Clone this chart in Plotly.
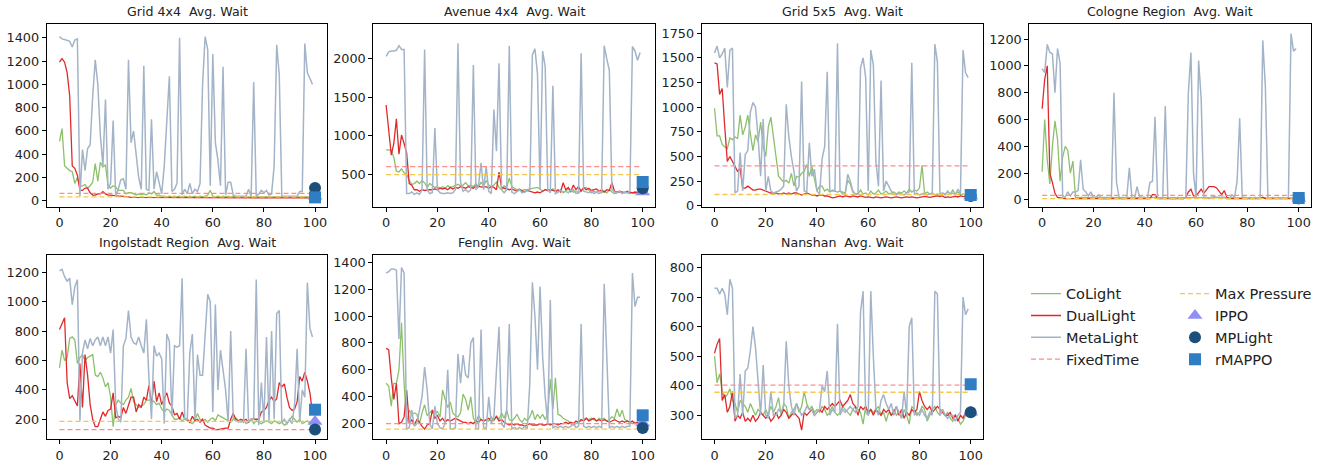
import plotly.graph_objects as go

EPISODES = list(range(100))

TITLES = ["Grid 4x4  Avg. Wait", "Avenue 4x4  Avg. Wait", "Grid 5x5  Avg. Wait",
          "Cologne Region  Avg. Wait", "Ingolstadt Region  Avg. Wait",
          "Fenglin  Avg. Wait", "Nanshan  Avg. Wait"]

# ---------------- Grid 4x4 ----------------
G44_CO = [510, 620, 300, 280, 260, 250, 150, 200, 120, 130,
          140, 110, 130, 160, 320, 170, 330, 290, 310, 130,
          110, 130, 120, 90, 90, 90, 60, 70, 70, 60,
          50, 60, 55, 60, 50, 70, 60, 80, 50, 50,
          40, 40, 35, 40, 35, 40, 35, 40, 35, 40,
          35, 40, 35, 40, 35, 40, 35, 40, 50, 90,
          40, 35, 40, 35, 40, 35, 40, 35, 40, 35,
          35, 35, 35, 35, 35, 35, 35, 35, 35, 35,
          35, 35, 35, 35, 35, 35, 35, 35, 35, 35,
          35, 35, 35, 35, 35, 35, 35, 35, 35, 35]
G44_DU = [1190, 1220, 1190, 1100, 900, 300, 280, 220, 90, 90,
          110, 110, 70, 50, 50, 60, 60, 80, 60, 50,
          50, 45, 45, 40, 40, 40, 40, 35, 30, 30,
          25, 25, 25, 25, 25, 25, 25, 25, 25, 25,
          25, 25, 25, 25, 25, 25, 25, 25, 25, 25,
          25, 25, 25, 25, 25, 25, 25, 25, 25, 25,
          25, 25, 25, 25, 25, 25, 25, 25, 25, 25,
          25, 25, 25, 25, 25, 25, 25, 25, 25, 25,
          25, 25, 25, 25, 25, 25, 25, 25, 25, 25,
          25, 25, 25, 25, 25, 25, 25, 25, 25, 25]
G44_ME = [1410, 1390, 1385, 1380, 1370, 1320, 1380, 1390, 40, 440,
          260, 450, 480, 900, 1210, 1000, 560, 300, 870, 100,
          150, 690, 40, 100, 180, 190, 100, 1210, 500, 600,
          420, 200, 100, 1160, 100, 90, 700, 100, 250, 150,
          60, 300, 700, 1070, 80, 100, 150, 1400, 50, 100,
          60, 150, 60, 100, 80, 150, 1000, 1410, 1300, 130,
          1260, 500, 350, 130, 1150, 50, 160, 160, 50, 40,
          40, 40, 40, 40, 100, 40, 1020, 40, 60, 90,
          70, 90, 50, 60, 300, 1340, 1080, 40, 40, 40,
          40, 40, 40, 40, 80, 80, 1350, 1100, 1050, 1000]

# ---------------- Avenue 4x4 ----------------
A44_CO = [820, 810, 810, 720, 540, 530, 570, 520, 500, 420,
          370, 380, 410, 380, 420, 390, 330, 380, 350, 330,
          340, 320, 340, 320, 350, 330, 340, 360, 370, 350,
          360, 390, 350, 360, 340, 380, 330, 400, 350, 420,
          360, 340, 360, 400, 330, 300, 350, 330, 450, 340,
          320, 300, 310, 290, 300, 300, 310, 320, 320, 330,
          310, 280, 300, 290, 280, 310, 280, 270, 300, 260,
          290, 310, 270, 300, 250, 260, 290, 320, 330, 300,
          260, 280, 270, 250, 270, 280, 260, 300, 270, 250,
          260, 270, 260, 270, 260, 250, 260, 250, 260, 250]
A44_DU = [1400, 1100, 750, 900, 1220, 760, 1010, 900, 780, 380,
          360, 300, 300, 280, 300, 290, 300, 300, 300, 310,
          300, 320, 310, 320, 300, 330, 310, 330, 320, 340,
          330, 320, 340, 330, 320, 350, 340, 330, 330, 340,
          320, 340, 330, 300, 530, 330, 320, 310, 300, 310,
          290, 280, 300, 280, 270, 290, 280, 270, 260, 270,
          260, 280, 300, 290, 300, 290, 280, 300, 270, 390,
          300, 330, 280, 360, 300, 340, 280, 330, 300, 320,
          290, 300, 310, 280, 300, 270, 300, 290, 390, 280,
          270, 280, 270, 260, 280, 270, 260, 270, 260, 260]
A44_ME = [2030, 2090, 2100, 2100, 2110, 2170, 2120, 2120, 250, 250,
          270, 240, 260, 240, 300, 2120, 300, 250, 260, 1100,
          300, 260, 250, 250, 260, 250, 260, 300, 2200, 400,
          280, 300, 270, 300, 1920, 300, 350, 650, 300, 600,
          280, 250, 1340, 800, 1940, 300, 260, 300, 2170, 270,
          250, 280, 300, 260, 270, 300, 300, 2050, 2130, 1800,
          300, 2100, 1900, 300, 260, 1650, 250, 270, 290, 270,
          280, 260, 300, 270, 280, 260, 2070, 280, 270, 260,
          280, 250, 270, 280, 260, 2170, 2000, 1850, 300, 270,
          260, 280, 250, 270, 260, 280, 2160, 2100, 1980, 2080]

# ---------------- Grid 5x5 ----------------
G55_CO = [990, 710, 710, 620, 600, 580, 690, 670, 700, 680,
          920, 720, 800, 920, 730, 560, 720, 650, 850, 600,
          500, 800, 900, 700, 450, 300, 270, 240, 260, 230,
          330, 200, 300, 290, 330, 350, 420, 300, 400, 260,
          150, 200, 200, 150, 170, 140, 160, 150, 140, 150,
          140, 130, 260, 220, 140, 120, 120, 160, 120, 130,
          110, 150, 120, 130, 160, 120, 130, 150, 120, 130,
          140, 120, 140, 130, 150, 130, 170, 140, 160, 150,
          180, 410, 120, 140, 120, 130, 110, 120, 110, 130,
          120, 140, 120, 160, 120, 140, 110, 120, 110, 110]
G55_DU = [1450, 1440, 1130, 1190, 800, 450, 500, 450, 400, 350,
          380, 180, 180, 200, 180, 160, 160, 170, 170, 160,
          150, 140, 130, 130, 130, 120, 120, 130, 120, 130,
          120, 130, 130, 120, 110, 120, 130, 120, 110, 110,
          100, 110, 110, 100, 100, 90, 80, 85, 95, 100,
          90, 100, 95, 90, 100, 95, 90, 100, 90, 85,
          90, 85, 80, 90, 85, 80, 85, 90, 85, 80,
          85, 90, 85, 80, 85, 90, 85, 90, 85, 80,
          85, 90, 95, 90, 85, 90, 95, 100, 95, 100,
          85, 90, 85, 90, 95, 90, 100, 95, 90, 90]
G55_ME = [1550, 1620, 1500, 1540, 1600, 1200, 1580, 1600, 130, 150,
          540, 150, 520, 560, 950, 1050, 1000, 700, 300, 880,
          150, 300, 150, 130, 140, 150, 170, 200, 1030, 700,
          500, 350, 150, 200, 1260, 150, 140, 640, 300, 370,
          150, 120, 480, 600, 1360, 150, 150, 150, 1650, 150,
          120, 120, 320, 250, 150, 120, 120, 1400, 1500, 1300,
          150, 1580, 1430, 450, 200, 1270, 150, 250, 200, 150,
          120, 110, 130, 120, 110, 130, 140, 1450, 120, 130,
          110, 120, 130, 110, 120, 130, 1640, 1460, 120, 130,
          110, 150, 120, 130, 110, 170, 120, 1580, 1350, 1300]

# ---------------- Cologne Region ----------------
COL_CO = [210, 600, 300, 120, 400, 590, 450, 140, 320, 400,
          370, 200, 290, 20, 20, 20, 15, 15, 15, 15,
          15, 15, 15, 15, 15, 15, 15, 15, 15, 15,
          15, 15, 15, 15, 15, 15, 15, 15, 15, 15,
          15, 15, 15, 15, 15, 15, 15, 15, 15, 15,
          15, 15, 15, 15, 15, 15, 15, 15, 15, 15,
          15, 15, 15, 15, 15, 15, 15, 15, 15, 15,
          15, 15, 15, 15, 15, 15, 15, 15, 15, 15,
          15, 15, 15, 15, 15, 15, 15, 15, 15, 15,
          15, 15, 15, 15, 15, 15, 15, 15, 15, 15]
COL_DU = [680, 900, 1000, 200, 130, 50, 20, 15, 10, 10,
          10, 10, 10, 10, 10, 10, 10, 10, 10, 10,
          10, 10, 10, 10, 10, 10, 10, 10, 10, 10,
          10, 10, 10, 10, 10, 10, 10, 10, 10, 10,
          10, 10, 10, 40, 40, 10, 10, 10, 10, 10,
          10, 10, 10, 10, 10, 10, 20, 60, 80, 30,
          30, 60, 80, 50, 80, 100, 100, 100, 90, 60,
          40, 70, 20, 10, 10, 10, 10, 10, 10, 10,
          10, 10, 10, 10, 10, 10, 20, 10, 10, 10,
          10, 10, 10, 10, 10, 10, 10, 10, 10, 10]
COL_ME = [980, 950, 1160, 1100, 1090, 800, 1130, 1020, 30, 20,
          60, 30, 60, 60, 70, 300, 80, 60, 30, 60,
          20, 20, 40, 10, 10, 10, 10, 20, 800, 130,
          20, 10, 10, 20, 240, 20, 10, 100, 20, 20,
          20, 10, 130, 140, 620, 20, 10, 20, 700, 20,
          10, 10, 10, 20, 10, 10, 20, 800, 1100, 200,
          20, 1040, 750, 20, 20, 10, 20, 30, 20, 20,
          20, 20, 10, 10, 40, 20, 140, 610, 20, 20,
          10, 20, 10, 20, 10, 20, 1190, 850, 20, 10,
          20, 10, 20, 10, 20, 10, 20, 1240, 1110, 1130]

# ---------------- Ingolstadt Region ----------------
ING_CO = [550, 670, 600, 620, 750, 760, 740, 580, 620, 640,
          600, 620, 630, 640, 500, 490, 520, 480, 420, 450,
          350, 150, 300, 330, 310, 300, 330, 350, 410, 320,
          300, 280, 290, 300, 330, 330, 330, 320, 300, 310,
          270, 250, 270, 260, 230, 200, 200, 210, 190, 200,
          190, 180, 170, 190, 240, 200, 190, 200, 180, 200,
          210, 190, 230, 220, 210, 200, 190, 180, 200, 210,
          190, 180, 200, 170, 180, 200, 170, 190, 180, 170,
          180, 190, 180, 170, 190, 180, 170, 180, 160, 170,
          200, 220, 200, 180, 200, 170, 180, 190, 170, 180]
ING_DU = [810, 850, 890, 450, 340, 360, 330, 290, 580, 280,
          640, 500, 300, 200, 150, 150, 200, 250, 220, 260,
          270, 380, 210, 220, 210, 280, 240, 300, 350, 350,
          250, 300, 280, 350, 330, 430, 300, 460, 320, 380,
          300, 340, 380, 310, 290, 230, 240, 200, 250, 200,
          200, 180, 220, 190, 200, 180, 200, 160, 150, 140,
          140, 130, 130, 135, 135, 140, 140, 200, 240, 200,
          190, 200, 190, 200, 180, 200, 200, 200, 200, 250,
          260, 280, 330, 350, 320, 340, 450, 420, 440, 350,
          280, 260, 270, 320, 490, 460, 520, 460, 380, 240]
ING_ME = [1210, 1220, 1170, 1140, 1160, 980, 1100, 1150, 190, 650,
          740, 680, 750, 700, 740, 760, 700, 760, 700, 760,
          650, 810, 300, 200, 180, 700, 750, 940, 760, 720,
          710, 760, 700, 650, 880, 480, 200, 700, 630, 650,
          610, 170, 780, 730, 220, 700, 690, 700, 1160, 200,
          200, 650, 780, 200, 640, 500, 500, 750, 1050, 1000,
          250, 980, 400, 670, 550, 400, 180, 800, 200, 190,
          180, 190, 180, 680, 180, 200, 200, 1150, 160, 450,
          180, 760, 180, 800, 200, 920, 940, 180, 200, 170,
          200, 170, 300, 680, 180, 400, 350, 1130, 820, 760]

# ---------------- Fenglin ----------------
FEN_CO = [500, 480, 330, 500, 500, 600, 950, 500, 200, 300,
          270, 280, 270, 200, 280, 340, 260, 280, 300, 280,
          290, 250, 450, 380, 320, 360, 280, 260, 250, 280,
          420, 380, 300, 400, 240, 210, 260, 230, 220, 230,
          220, 250, 220, 260, 230, 280, 240, 300, 230, 220,
          240, 270, 230, 210, 240, 220, 250, 300, 230, 270,
          240, 270, 230, 280, 530, 310, 540, 270, 260, 240,
          230, 220, 200, 190, 200, 210, 220, 230, 240, 230,
          240, 230, 220, 240, 230, 240, 220, 230, 250, 240,
          310, 250, 300, 230, 220, 210, 200, 210, 200, 200]
FEN_DU = [760, 750, 540, 380, 500, 200, 210, 250, 450, 200,
          230, 190, 230, 210, 180, 160, 190, 200, 300, 240,
          260, 220, 240, 210, 230, 220, 230, 240, 230, 220,
          210, 210, 200, 210, 200, 220, 210, 230, 220, 230,
          240, 220, 230, 250, 220, 230, 210, 200, 190, 200,
          190, 200, 190, 190, 180, 190, 200, 190, 190, 190,
          200, 190, 190, 200, 190, 200, 200, 190, 200, 200,
          210, 200, 210, 200, 220, 210, 230, 220, 240, 220,
          230, 240, 220, 230, 220, 230, 220, 210, 220, 230,
          220, 210, 220, 210, 220, 210, 220, 200, 210, 200]
FEN_ME = [1320, 1330, 1350, 1350, 1340, 830, 1360, 1320, 160, 170,
          300, 180, 200, 300, 400, 620, 450, 200, 160, 330,
          200, 170, 160, 200, 600, 160, 160, 170, 720, 500,
          710, 560, 540, 800, 840, 160, 160, 900, 170, 160,
          400, 200, 240, 600, 920, 200, 170, 300, 940, 160,
          170, 160, 170, 160, 180, 160, 500, 1250, 1000, 600,
          1220, 700, 400, 200, 1120, 170, 180, 170, 180, 170,
          180, 170, 180, 200, 170, 180, 940, 180, 170, 180,
          170, 180, 170, 180, 170, 1240, 700, 170, 180, 170,
          180, 170, 180, 170, 180, 180, 1320, 1070, 1140, 1140]

# ---------------- Nanshan ----------------
NAN_CO = [500, 410, 440, 380, 360, 370, 390, 350, 340, 310,
          350, 340, 330, 310, 340, 320, 300, 320, 310, 300,
          320, 300, 330, 310, 330, 360, 300, 340, 330, 290,
          310, 320, 340, 310, 330, 380, 340, 320, 330, 310,
          320, 310, 330, 320, 300, 310, 330, 310, 300, 310,
          330, 320, 310, 300, 320, 330, 320, 310, 270, 330,
          300, 320, 310, 320, 330, 300, 310, 280, 310, 300,
          320, 300, 310, 290, 320, 300, 270, 330, 320, 300,
          310, 330, 320, 280, 300, 320, 330, 310, 300, 320,
          300, 310, 290, 280, 300, 290, 270, 280, 300, 310]
NAN_DU = [510, 540, 560, 350, 370, 310, 330, 380, 280, 300,
          290, 310, 280, 290, 280, 300, 280, 290, 310, 300,
          290, 300, 280, 290, 310, 290, 300, 320, 310, 290,
          300, 310, 300, 290, 250, 310, 300, 310, 320, 300,
          310, 320, 310, 330, 320, 330, 340, 330, 340, 350,
          330, 340, 350, 370, 340, 330, 300, 330, 320, 330,
          310, 320, 300, 320, 310, 300, 320, 310, 320, 300,
          310, 330, 300, 320, 290, 310, 300, 320, 310, 320,
          380, 350, 330, 320, 330, 310, 320, 330, 320, 310,
          300, 300, 310, 290, 300, 280, 300, 290, 310, 310]
NAN_ME = [730, 730, 710, 730, 710, 640, 760, 730, 290, 300,
          440, 300, 450, 460, 520, 600, 530, 420, 300, 470,
          300, 290, 380, 300, 300, 320, 310, 330, 550, 400,
          330, 300, 340, 320, 300, 310, 330, 320, 320, 300,
          310, 320, 400, 380, 450, 300, 320, 310, 610, 300,
          320, 310, 320, 330, 320, 310, 330, 650, 720, 310,
          300, 720, 500, 320, 300, 350, 370, 340, 320, 340,
          300, 330, 310, 290, 380, 300, 600, 630, 300, 310,
          300, 320, 300, 290, 310, 300, 720, 710, 300, 320,
          300, 290, 300, 300, 280, 300, 310, 700, 640, 660]

COLIGHT = [G44_CO, A44_CO, G55_CO, COL_CO, ING_CO, FEN_CO, NAN_CO]
DUALLIGHT = [G44_DU, A44_DU, G55_DU, COL_DU, ING_DU, FEN_DU, NAN_DU]
METALIGHT = [G44_ME, A44_ME, G55_ME, COL_ME, ING_ME, FEN_ME, NAN_ME]
FIXEDTIME = [65, 600, 405, 35, 130, 200, 402]
MAXPRESSURE = [35, 495, 115, 10, 185, 160, 378]
IPPO = [40, 270, 100, 12, 185, 205, 310]
MPLIGHT = [110, 320, 100, 12, 130, 168, 310]
RMAPPO = [30, 400, 110, 15, 265, 262, 405]
MARKER_X = 100

Y_TICKS = [[0, 200, 400, 600, 800, 1000, 1200, 1400],
           [500, 1000, 1500, 2000],
           [0, 250, 500, 750, 1000, 1250, 1500, 1750],
           [0, 200, 400, 600, 800, 1000, 1200],
           [200, 400, 600, 800, 1000, 1200],
           [200, 400, 600, 800, 1000, 1200, 1400],
           [300, 400, 500, 600, 700, 800]]
Y_RANGES = [[-51, 1521], [78, 2456], [-10, 1848], [-51, 1315],
            [64, 1317], [84, 1453], [219, 842]]
X_TICKS = [0, 20, 40, 60, 80, 100]

C_CO = "#8cc06b"
C_DU = "#df2a2c"
C_ME = "#a3b4c8"
C_FT = "#ff8c8c"
C_MP = "#f6c748"
C_IP = "#8f8ff5"
C_ML = "#1b4f7c"
C_RM = "#2f7ec4"

W, H = 1332, 463
COLS = [(46.7, 327.3), (373.3, 655.0), (701.7, 983.0), (1029.3, 1311.0)]
ROWS = [(24.0, 210.0), (259.0, 446.0)]
FONT = "DejaVu Sans"

fig = go.Figure()
layout = dict(width=W, height=H, margin=dict(l=0, r=0, t=0, b=0),
              paper_bgcolor="white", plot_bgcolor="white",
              font=dict(family=FONT, size=12.8, color="#222"),
              annotations=[])

for i in range(7):
    r, c = divmod(i, 4)
    ax = "" if i == 0 else str(i + 1)
    xa, ya = "x" + ax, "y" + ax
    first = (i == 0)
    fig.add_trace(go.Scatter(x=EPISODES, y=COLIGHT[i], mode="lines", name="CoLight",
                             line=dict(color=C_CO, width=1.3), xaxis=xa, yaxis=ya,
                             legend="legend", showlegend=first, legendgroup="co"))
    fig.add_trace(go.Scatter(x=EPISODES, y=DUALLIGHT[i], mode="lines", name="DualLight",
                             line=dict(color=C_DU, width=1.3), xaxis=xa, yaxis=ya,
                             legend="legend", showlegend=first, legendgroup="du"))
    fig.add_trace(go.Scatter(x=EPISODES, y=METALIGHT[i], mode="lines", name="MetaLight",
                             line=dict(color=C_ME, width=1.5), xaxis=xa, yaxis=ya,
                             legend="legend", showlegend=first, legendgroup="me"))
    fig.add_trace(go.Scatter(x=[0, 99], y=[FIXEDTIME[i]] * 2, mode="lines", name="FixedTime",
                             line=dict(color=C_FT, width=1.3, dash="5px,3px"), xaxis=xa, yaxis=ya,
                             legend="legend", showlegend=first, legendgroup="ft"))
    fig.add_trace(go.Scatter(x=[0, 99], y=[MAXPRESSURE[i]] * 2, mode="lines", name="Max Pressure",
                             line=dict(color=C_MP, width=1.3, dash="5px,3px"), xaxis=xa, yaxis=ya,
                             legend="legend2", showlegend=first, legendgroup="mp"))
    fig.add_trace(go.Scatter(x=[MARKER_X], y=[IPPO[i]], mode="markers", name="IPPO",
                             marker=dict(color=C_IP, size=13, symbol="triangle-up"), xaxis=xa, yaxis=ya,
                             legend="legend2", showlegend=first, legendgroup="ip", cliponaxis=False))
    fig.add_trace(go.Scatter(x=[MARKER_X], y=[MPLIGHT[i]], mode="markers", name="MPLight",
                             marker=dict(color=C_ML, size=12, symbol="circle"), xaxis=xa, yaxis=ya,
                             legend="legend2", showlegend=first, legendgroup="ml", cliponaxis=False))
    fig.add_trace(go.Scatter(x=[MARKER_X], y=[RMAPPO[i]], mode="markers", name="rMAPPO",
                             marker=dict(color=C_RM, size=12, symbol="square"), xaxis=xa, yaxis=ya,
                             legend="legend2", showlegend=first, legendgroup="rm", cliponaxis=False))

    x0, x1 = COLS[c]
    y0, y1 = ROWS[r]
    axis_common = dict(showline=True, linecolor="black", linewidth=1, mirror=True,
                       ticks="outside", ticklen=4, tickwidth=1, tickcolor="black",
                       showgrid=False, zeroline=False,
                       tickfont=dict(family=FONT, size=12.8, color="#222"))
    layout["xaxis" + ax] = dict(domain=[x0 / W, x1 / W], anchor=ya, range=[-5, 104.8],
                                tickmode="array", tickvals=X_TICKS, **axis_common)
    layout["yaxis" + ax] = dict(domain=[1 - y1 / H, 1 - y0 / H], anchor=xa, range=Y_RANGES[i],
                                tickmode="array", tickvals=Y_TICKS[i], **axis_common)
    layout["annotations"].append(dict(text=TITLES[i], xref="paper", yref="paper",
                                      x=(x0 + x1) / 2 / W, y=1 - (y0 - 3) / H,
                                      xanchor="center", yanchor="bottom", showarrow=False,
                                      font=dict(family=FONT, size=12.6, color="#222")))

layout["legend"] = dict(x=1026 / W, y=1 - 282 / H, xanchor="left", yanchor="top",
                        font=dict(family=FONT, size=14.5, color="#222"),
                        bgcolor="rgba(0,0,0,0)", tracegroupgap=0, traceorder="normal")
layout["legend2"] = dict(x=1175 / W, y=1 - 282 / H, xanchor="left", yanchor="top",
                         font=dict(family=FONT, size=14.5, color="#222"),
                         bgcolor="rgba(0,0,0,0)", tracegroupgap=0, traceorder="normal")

fig.update_layout(**layout)
fig.write_html("out.html", config={"displayModeBar": False},
               post_script="document.body.style.margin='0';document.body.style.padding='0';")
